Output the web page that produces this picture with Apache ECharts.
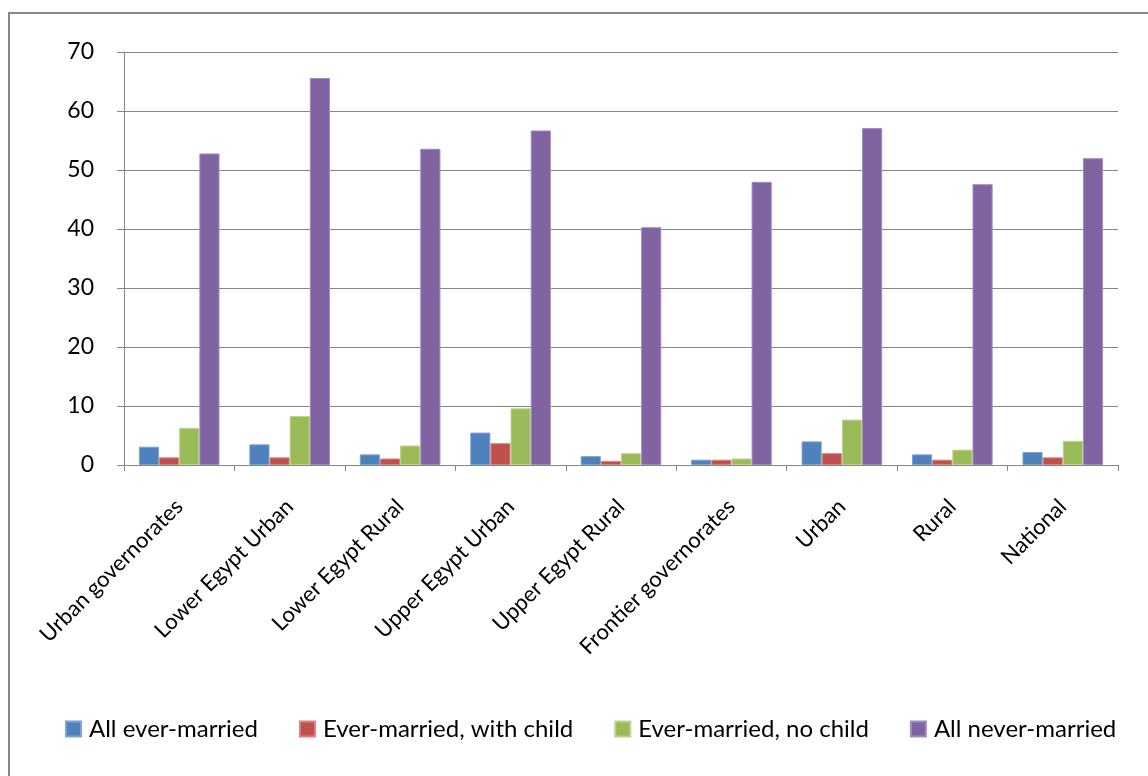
<!DOCTYPE html>
<html><head><meta charset="utf-8">
<script src="https://cdn.jsdelivr.net/npm/echarts@6/dist/echarts.min.js"></script>
<style>html,body{margin:0;padding:0;background:#fff}#c{width:1148px;height:776px}</style>
</head><body><div id="c"></div>
<script>
const categories = ["Urban governorates","Lower Egypt Urban","Lower Egypt Rural","Upper Egypt Urban","Upper Egypt Rural","Frontier governorates","Urban","Rural","National"];
const allEverMarried = [3.1, 3.5, 1.8, 5.5, 1.5, 0.9, 4.0, 1.8, 2.2];
const everMarriedWithChild = [1.3, 1.3, 1.1, 3.7, 0.7, 0.9, 2.0, 0.9, 1.3];
const everMarriedNoChild = [6.3, 8.3, 3.3, 9.6, 2.0, 1.1, 7.7, 2.6, 4.1];
const allNeverMarried = [52.8, 65.6, 53.6, 56.7, 40.3, 48.0, 57.1, 47.6, 52.0];
const seriesNames = ["All ever-married","Ever-married, with child","Ever-married, no child","All never-married"];
const colors = ["#4F81BD","#C0504D","#9BBB59","#8064A2"];
const borders = ["#7DA2D4","#D98280","#BBD38A","#A08CC0"];
const font = "Lato, 'Open Sans', sans-serif";
const chart = echarts.init(document.getElementById('c'), null, {renderer:'canvas'});
const data = [allEverMarried, everMarriedWithChild, everMarriedNoChild, allNeverMarried];
chart.setOption({
  animation:false,
  backgroundColor:'#fff',
  graphic:[{type:'rect',shape:{x:9,y:13,width:1150,height:780},style:{fill:'none',stroke:'#878787',lineWidth:2}}],
  grid:{left:124,right:30,top:52,bottom:311,containLabel:false},
  legend:{top:717,left:65,padding:0,itemWidth:15,itemHeight:15,itemGap:41,icon:'rect',
    textStyle:{fontFamily:font,fontSize:24,color:'#000',padding:[0,0,0,3]},data:seriesNames},
  xAxis:{type:'category',data:categories,
    axisLine:{lineStyle:{color:'#868686',width:1}},
    axisTick:{show:true,length:6,lineStyle:{color:'#868686'}},
    axisLabel:{rotate:45,interval:0,fontFamily:font,fontSize:22,color:'#000',margin:38,verticalAlign:'middle'}},
  yAxis:{type:'value',min:0,max:70,interval:10,
    axisLine:{show:true,lineStyle:{color:'#868686'}},
    axisTick:{show:true,length:7,lineStyle:{color:'#868686'}},
    splitLine:{lineStyle:{color:'#868686',width:1}},
    axisLabel:{fontFamily:font,fontSize:23,color:'#000',margin:30}},
  series: seriesNames.map((n,i)=>({name:n,type:'bar',data:data[i],barGap:'0%',barCategoryGap:'27%',
    itemStyle:{color:colors[i],borderColor:borders[i],borderWidth:1}}))
});
</script></body></html>
